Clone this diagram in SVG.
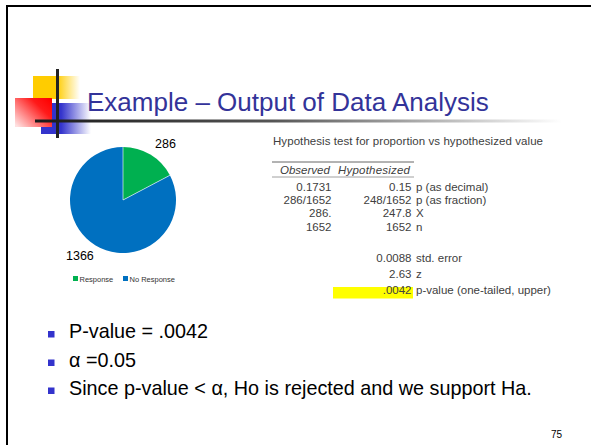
<svg xmlns="http://www.w3.org/2000/svg" width="591" height="445" viewBox="0 0 591 445">
<defs>
<linearGradient id="gY" x1="33" y1="0" x2="80" y2="0" gradientUnits="userSpaceOnUse">
<stop offset="0" stop-color="#FFCC00"/><stop offset="0.5" stop-color="#FFCC00"/><stop offset="1" stop-color="#FFCC00" stop-opacity="0"/>
</linearGradient>
<linearGradient id="gB" x1="41" y1="0" x2="91" y2="0" gradientUnits="userSpaceOnUse">
<stop offset="0" stop-color="#3333CC"/><stop offset="0.4" stop-color="#3333CC"/><stop offset="1" stop-color="#3333CC" stop-opacity="0"/>
</linearGradient>
<linearGradient id="gR" x1="1" y1="0.1" x2="0" y2="0.9">
<stop offset="0" stop-color="#FF0000"/><stop offset="0.3" stop-color="#FF1A1A"/><stop offset="1" stop-color="#FFE0E0"/>
</linearGradient>
<linearGradient id="gL" x1="35" y1="0" x2="562" y2="0" gradientUnits="userSpaceOnUse">
<stop offset="0" stop-color="#1a1a1a"/><stop offset="0.45" stop-color="#555"/><stop offset="1" stop-color="#fff"/>
</linearGradient>
<style>
.title{font-family:"Liberation Sans",Arial,sans-serif;font-size:26px;fill:#333399}
.bul{font-family:"Liberation Sans",Arial,sans-serif;font-size:19.8px;fill:#000}
.sq{fill:#3333CC}
.lbl{font-family:"Liberation Sans",Arial,sans-serif;font-size:12.5px;fill:#000}
.leg{font-family:"Liberation Sans",Arial,sans-serif;font-size:7.5px;fill:#333}
.tb{font-family:"Liberation Sans",Arial,sans-serif;font-size:11.5px;fill:#404040}
.r{text-anchor:end}
.it{font-style:italic}
</style>
</defs>
<rect width="591" height="445" fill="#fff"/>
<g id="frame" stroke="#000" stroke-width="2" fill="none">
<line x1="6" y1="6" x2="591" y2="6"/>
<line x1="7" y1="6" x2="7" y2="445"/>
</g>
<g id="logo">
<rect x="33" y="76" width="47" height="23" fill="url(#gY)"/>
<rect x="41" y="103" width="50" height="31" fill="url(#gB)"/>
<rect x="15" y="98" width="37" height="29" fill="url(#gR)"/>
<line x1="57.5" y1="69" x2="57.5" y2="138" stroke="#222" stroke-width="3"/>
<rect x="35" y="119.5" width="527" height="3" fill="url(#gL)"/>
</g>
<text id="title" class="title" x="87" y="110.5">Example – Output of Data Analysis</text>
<g id="pie">
<path d="M123,200 L123,147 A53,53 0 0 1 169.9,175.3 Z" fill="#00B050"/>
<path d="M123,200 L169.9,175.3 A53,53 0 1 1 123,147 Z" fill="#0070C0"/>
<line x1="123" y1="200" x2="123" y2="147" stroke="#fff" stroke-width="0.6"/>
<line x1="123" y1="200" x2="169.9" y2="175.3" stroke="#fff" stroke-width="0.6"/>
<text class="lbl" x="155" y="148">286</text>
<text class="lbl" x="66" y="260">1366</text>
<rect x="73" y="276" width="5" height="5" fill="#00B050"/>
<text class="leg" x="79.5" y="281.5">Response</text>
<rect x="123" y="276" width="5" height="5" fill="#0070C0"/>
<text class="leg" x="129.5" y="281.5">No Response</text>
</g>
<g id="table">
<text class="tb" x="273" y="145" textLength="270">Hypothesis test for proportion vs hypothesized value</text>
<line x1="272" y1="162" x2="414" y2="162" stroke="#666" stroke-width="1"/>
<text class="tb it" x="280" y="174">Observed</text>
<text class="tb it" x="338" y="174" textLength="72">Hypothesized</text>
<line x1="272" y1="177" x2="414" y2="177" stroke="#888" stroke-width="0.8"/>
<rect x="333" y="287" width="80" height="11.5" fill="#FFFF00"/>
<text class="tb r" x="331.5" y="191">0.1731</text>
<text class="tb r" x="411.5" y="191">0.15</text>
<text class="tb" x="416" y="191">p (as decimal)</text>
<text class="tb r" x="331.5" y="204">286/1652</text>
<text class="tb r" x="411.5" y="204">248/1652</text>
<text class="tb" x="416" y="204">p (as fraction)</text>
<text class="tb r" x="331.5" y="217">286.</text>
<text class="tb r" x="411.5" y="217">247.8</text>
<text class="tb" x="416" y="217">X</text>
<text class="tb r" x="331.5" y="231">1652</text>
<text class="tb r" x="411.5" y="231">1652</text>
<text class="tb" x="416" y="231">n</text>
<text class="tb r" x="411.5" y="262">0.0088</text>
<text class="tb" x="416" y="262">std. error</text>
<text class="tb r" x="411.5" y="278">2.63</text>
<text class="tb" x="416" y="278">z</text>
<text class="tb r" x="411.5" y="294">.0042</text>
<text class="tb" x="416" y="294">p-value (one-tailed, upper)</text>
</g>
<g id="bullets">
<rect class="sq" x="48" y="331" width="6.5" height="6.5"/>
<text class="bul" x="69" y="338">P-value = .0042</text>
<rect class="sq" x="48" y="359.5" width="6.5" height="6.5"/>
<text class="bul" x="69" y="366.5">α =0.05</text>
<rect class="sq" x="48" y="387.5" width="6.5" height="6.5"/>
<text class="bul" x="69" y="395">Since p-value &lt; α, Ho is rejected and we support Ha.</text>
</g>
<text id="pagenum" x="551" y="438" font-family="Liberation Sans, Arial, sans-serif" font-size="10px" fill="#000">75</text>
</svg>
